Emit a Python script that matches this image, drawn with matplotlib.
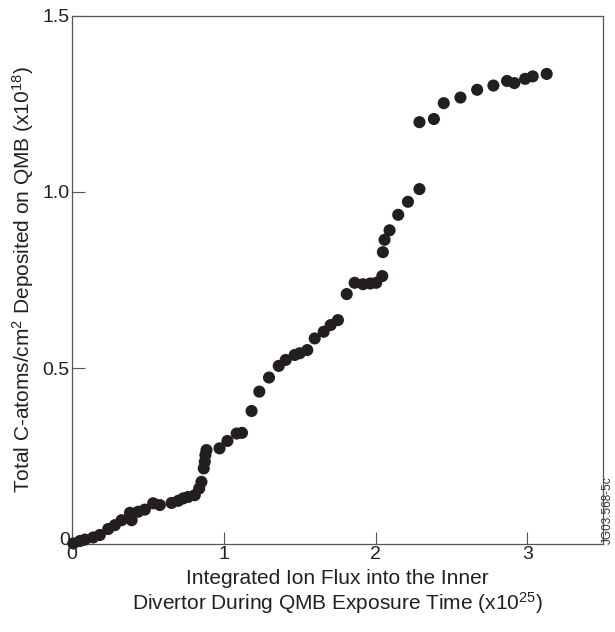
import matplotlib.pyplot as plt
import matplotlib.transforms as mtransforms

# Integrated ion flux (x1e25) and deposited carbon (x1e18 atoms/cm2)
flux = [0.009, 0.053, 0.086, 0.14, 0.184, 0.239, 0.283, 0.327, 0.382, 0.393,
        0.436, 0.48, 0.535, 0.579, 0.656, 0.70, 0.733, 0.765, 0.809, 0.838,
        0.853, 0.868, 0.875, 0.879, 0.886, 0.972, 1.024, 1.085, 1.12, 1.183,
        1.234, 1.298, 1.362, 1.408, 1.467, 1.5, 1.55, 1.599, 1.658, 1.704,
        1.752, 1.81, 1.862, 1.917, 1.965, 2.004, 2.044, 2.048, 2.059, 2.092,
        2.149, 2.213, 2.289, 2.289, 2.384, 2.449, 2.559, 2.669, 2.776, 2.866,
        2.914, 2.985, 3.035, 3.127]
carbon = [0.002, 0.009, 0.013, 0.019, 0.026, 0.043, 0.054, 0.068, 0.089, 0.068,
          0.092, 0.098, 0.116, 0.111, 0.117, 0.123, 0.13, 0.134, 0.139, 0.158,
          0.177, 0.215, 0.234, 0.253, 0.267, 0.272, 0.293, 0.314, 0.316, 0.378,
          0.433, 0.473, 0.506, 0.523, 0.537, 0.542, 0.551, 0.584, 0.603, 0.622,
          0.636, 0.71, 0.742, 0.738, 0.74, 0.742, 0.761, 0.829, 0.864, 0.891,
          0.935, 0.972, 1.008, 1.198, 1.207, 1.252, 1.268, 1.29, 1.302, 1.315,
          1.309, 1.321, 1.328, 1.335]

x_ticks = [0, 1, 2, 3]
y_ticks = [0, 0.5, 1.0, 1.5]
y_tick_labels = ['0', '0.5', '1.0', '1.5']

plt.rcParams['font.family'] = ['Liberation Sans', 'DejaVu Sans']
plt.rcParams['mathtext.fontset'] = 'custom'
plt.rcParams['mathtext.rm'] = 'Liberation Sans'
plt.rcParams['mathtext.it'] = 'Liberation Sans'
plt.rcParams['mathtext.default'] = 'regular'

fig = plt.figure(figsize=(6.15, 6.32), dpi=100)
ax = fig.add_axes([0.117, 0.139, 0.864, 0.836])

ax.scatter(flux, carbon, s=76, color='#231f20', edgecolors='none', zorder=3, clip_on=False)

ax.set_xlim(0, 3.5)
ax.set_ylim(0, 1.5)
ax.set_xticks(x_ticks)
ax.set_xticklabels([str(t) for t in x_ticks])
ax.set_yticks(y_ticks)
ax.set_yticklabels(y_tick_labels)
ax.tick_params(direction='in', length=9, width=0.8, color='#555555',
               labelsize=14, pad=1.5, labelcolor='#231f20')

# the y "0" sits a little above the corner so it clears the x "0"
lab0 = ax.get_yticklabels()[0]
lab0.set_transform(lab0.get_transform() +
                   mtransforms.ScaledTranslation(0, 4 / 72, fig.dpi_scale_trans))

for spine in ax.spines.values():
    spine.set_color('#555555')
    spine.set_linewidth(0.9)

ax.set_xlabel('Integrated Ion Flux into the Inner\n'
              'Divertor During QMB Exposure Time (x10$^{25}$)',
              fontsize=15, linespacing=1.1, labelpad=4, color='#231f20')
ax.set_ylabel('Total C-atoms/cm$^{2}$ Deposited on QMB (x10$^{18}$)',
              fontsize=15, labelpad=5, color='#231f20')

fig.text(0.988, 0.14, 'JG03.568-5c', rotation=90, fontsize=8.5,
         ha='center', va='bottom', color='#333333')

fig.savefig('out.png', dpi=100)
